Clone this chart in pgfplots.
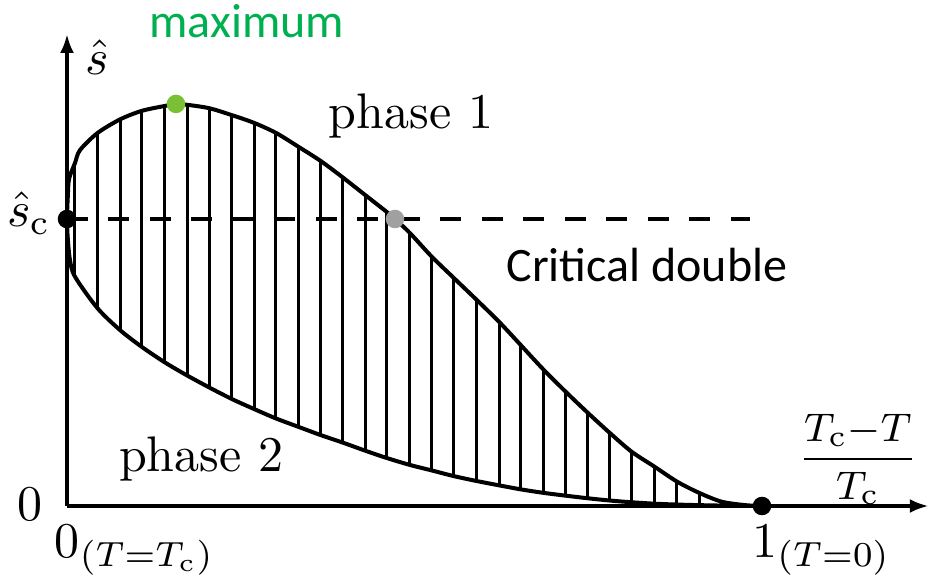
\documentclass[border=0pt]{standalone}
\usepackage{pgfplots}
\pgfplotsset{compat=1.18}
\usepackage{fontspec}
\newfontfamily\calibri{Carlito}
\usetikzlibrary{arrows.meta}
\definecolor{maxgreen}{RGB}{0,176,80}
\definecolor{dotgreen}{RGB}{122,192,52}
\definecolor{dotgray}{RGB}{160,160,160}

\begin{document}
\begin{tikzpicture}
\useasboundingbox (-13.4pt,-14.4pt) rectangle (172.2pt,101.2pt);
\begin{axis}[
  anchor=origin, at={(0,0)},
  x=139pt, y=57.4pt,
  xmin=0, xmax=1.24, ymin=0, ymax=1.645,
  axis lines=middle,
  axis line style={line width=0.9pt, -{Latex[length=3.8pt,width=2.8pt]}},
  xtick=\empty, ytick=\empty,
  enlargelimits=false, clip=false,
]
% coexistence region: vertical hatching between the two branches
\addplot[black, line width=0.6pt, unbounded coords=jump] coordinates {
  (0.0115,0.799) (0.0115,1.195) (0.0115,nan)
  (0.0436,0.690) (0.0436,1.299) (0.0436,nan)
  (0.0763,0.613) (0.0763,1.347) (0.0763,nan)
  (0.1079,0.554) (0.1079,1.377) (0.1079,nan)
  (0.1410,0.500) (0.1410,1.394) (0.1410,nan)
  (0.1727,0.455) (0.1727,1.398) (0.1727,nan)
  (0.2047,0.413) (0.2047,1.386) (0.2047,nan)
  (0.2370,0.373) (0.2370,1.362) (0.2370,nan)
  (0.2691,0.338) (0.2691,1.335) (0.2691,nan)
  (0.3007,0.305) (0.3007,1.300) (0.3007,nan)
  (0.3328,0.276) (0.3328,1.252) (0.3328,nan)
  (0.3651,0.247) (0.3651,1.202) (0.3651,nan)
  (0.3967,0.221) (0.3967,1.145) (0.3967,nan)
  (0.4288,0.193) (0.4288,1.084) (0.4288,nan)
  (0.4604,0.167) (0.4604,1.024) (0.4604,nan)
  (0.4935,0.143) (0.4935,0.951) (0.4935,nan)
  (0.5247,0.124) (0.5247,0.869) (0.5247,nan)
  (0.5568,0.104) (0.5568,0.794) (0.5568,nan)
  (0.5895,0.087) (0.5895,0.718) (0.5895,nan)
  (0.6216,0.072) (0.6216,0.642) (0.6216,nan)
  (0.6528,0.058) (0.6528,0.561) (0.6528,nan)
  (0.6849,0.046) (0.6849,0.477) (0.6849,nan)
  (0.7176,0.036) (0.7176,0.398) (0.7176,nan)
  (0.7492,0.027) (0.7492,0.325) (0.7492,nan)
  (0.7813,0.019) (0.7813,0.254) (0.7813,nan)
  (0.8125,0.013) (0.8125,0.189) (0.8125,nan)
  (0.8460,0.008) (0.8460,0.136) (0.8460,nan)
  (0.8777,0.005) (0.8777,0.085) (0.8777,nan)
  (0.9094,0.003) (0.9094,0.046) (0.9094,nan)
  (0.9420,0.0015) (0.9420,0.015)
};
% critical level
\addplot[black, line width=0.8pt, dash pattern=on 4.2pt off 4.1pt] coordinates {(0,1) (0.983,1)};
% boundary of the coexistence region: phase 2 branch, then phase 1 branch
\addplot[black, line width=0.8pt, smooth] coordinates {
  (1,0) (0.9420,0.0015) (0.9094,0.003) (0.8777,0.005) (0.8460,0.008)
  (0.8125,0.013) (0.7813,0.019) (0.7492,0.027) (0.7176,0.036) (0.6849,0.046)
  (0.6528,0.058) (0.6216,0.072) (0.5895,0.087) (0.5568,0.104) (0.5247,0.124)
  (0.4935,0.143) (0.4604,0.167) (0.4288,0.193) (0.3967,0.221) (0.3651,0.247)
  (0.3328,0.276) (0.3007,0.305) (0.2691,0.338) (0.2370,0.373) (0.2047,0.413)
  (0.1727,0.455) (0.1410,0.500) (0.1079,0.554) (0.0763,0.613) (0.0436,0.690)
  (0.0115,0.799) (0.0043,0.857) (0.0012,0.93) (0,1)
  (0.0012,1.08) (0.003,1.14) (0.0115,1.195) (0.0187,1.24) (0.0436,1.299)
  (0.0763,1.347) (0.1079,1.377) (0.1410,1.394) (0.1568,1.401) (0.1727,1.398)
  (0.2047,1.386) (0.2370,1.362) (0.2691,1.335) (0.3007,1.300) (0.3328,1.252)
  (0.3651,1.202) (0.3967,1.145) (0.4288,1.084) (0.4604,1.024) (0.4719,1.0)
  (0.4935,0.951) (0.5247,0.869) (0.5568,0.794) (0.5895,0.718) (0.6216,0.642)
  (0.6528,0.561) (0.6849,0.477) (0.7176,0.398) (0.7492,0.325) (0.7813,0.254)
  (0.8125,0.189) (0.8460,0.136) (0.8777,0.085) (0.9094,0.046) (0.9420,0.015)
  (0.976,0.003) (1,0)
};
% special points
\addplot[only marks, mark=*, mark size=1.65pt, black] coordinates {(0,1) (1,0)};
\addplot[only marks, mark=*, mark size=1.65pt, dotgreen, mark options={draw=dotgreen, fill=dotgreen}] coordinates {(0.1568,1.401)};
\addplot[only marks, mark=*, mark size=1.65pt, dotgray, mark options={draw=dotgray, fill=dotgray}] coordinates {(0.4719,1.0)};

% axis labels
\node[anchor=base west, inner sep=0pt, xshift=3.6pt] at (0,1.502) {$\hat{s}$};
\node[anchor=base east, inner sep=0pt, xshift=-3pt, yshift=-1.6pt] at (0,1) {$\hat{s}_{\mathrm{c}}$};
\node[anchor=base east, inner sep=0pt, xshift=-4.6pt, yshift=-2.8pt] at (0,0) {$0$};
\node[anchor=base west, inner sep=0pt, xshift=-2.6pt, yshift=-10.2pt] at (0,0) {$0_{(T=T_{\mathrm{c}})}$};
\node[anchor=base west, inner sep=0pt, xshift=-2.1pt, yshift=-10.2pt] at (1,0) {$1_{(T=0)}$};
\node[inner sep=0pt, font=\fontsize{8}{9}\selectfont] at (1.138,0.162)
  {$\displaystyle\frac{T_{\mathrm{c}}{-}T}{T_{\mathrm{c}}}$};

% region and point annotations
\node[anchor=base] at (0.495,1.317) {phase 1};
\node[anchor=base] at (0.193,0.1185) {phase 2};
\node[anchor=base, text=maxgreen, font=\calibri\fontsize{9.6}{11}\selectfont] at (0.2586,1.631) {maximum};
\node[anchor=base, font=\calibri\fontsize{9.6}{11}\selectfont] at (0.8345,0.7815) {Critical double};
\end{axis}
\end{tikzpicture}
\end{document}
